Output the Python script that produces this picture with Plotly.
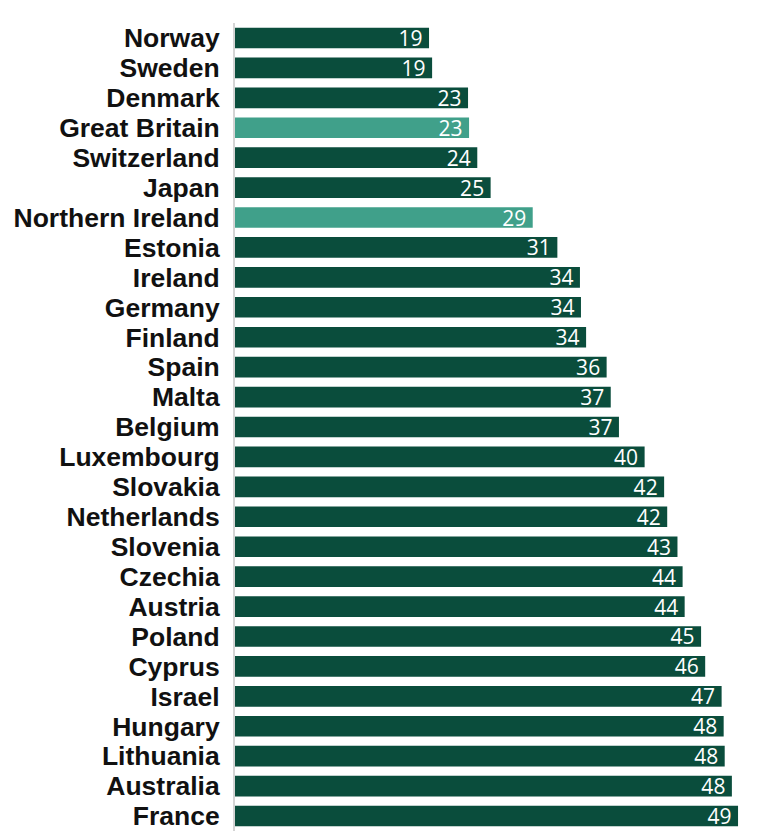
import plotly.graph_objects as go

# countries top to bottom, as in the chart
countries = ['Norway', 'Sweden', 'Denmark', 'Great Britain', 'Switzerland', 'Japan',
             'Northern Ireland', 'Estonia', 'Ireland', 'Germany', 'Finland', 'Spain',
             'Malta', 'Belgium', 'Luxembourg', 'Slovakia', 'Netherlands', 'Slovenia',
             'Czechia', 'Austria', 'Poland', 'Cyprus', 'Israel', 'Hungary', 'Lithuania',
             'Australia', 'France']
values = [18.9, 19.2, 22.7, 22.8, 23.6, 24.9,
          29.0, 31.4, 33.6, 33.7, 34.2, 36.2,
          36.6, 37.4, 39.9, 41.8, 42.1, 43.1,
          43.6, 43.8, 45.4, 45.8, 47.4, 47.6, 47.7,
          48.4, 49.0]
highlight = ['Great Britain', 'Northern Ireland']

dark_green = '#0a4d3c'
light_teal = '#40a08a'

colors = [light_teal if c in highlight else dark_green for c in countries]
# thin space after the number gives a bit more padding at the bar end
labels = [str(int(round(v))) + '\u2009' for v in values]

fig = go.Figure()
fig.add_trace(go.Bar(
    x=values, y=countries, orientation='h',
    marker=dict(color=colors, line=dict(width=0)),
    text=labels, textposition='inside', insidetextanchor='end',
    constraintext='none',
    textfont=dict(family='Open Sans', size=21, color='white'),
    textangle=0, cliponaxis=False, hoverinfo='skip',
))

# page body has an 8px margin, so the figure is a bit smaller than the window
fig.update_layout(
    width=760, height=826,
    margin=dict(l=227, r=20, t=15, b=3),
    paper_bgcolor='white', plot_bgcolor='white',
    bargap=0.31, showlegend=False,
    xaxis=dict(range=[0, 49.97], visible=False, fixedrange=True),
    yaxis=dict(
        autorange='reversed', showline=True, linecolor='#d4d4d4', linewidth=2,
        ticks='', ticklabelstandoff=8, tickmode='linear', dtick=1,
        tickfont=dict(family='Liberation Sans', size=26.5, color='#111111', weight='bold'),
        showgrid=False, fixedrange=True, automargin=False,
    ),
)

fig.write_html("out.html")
